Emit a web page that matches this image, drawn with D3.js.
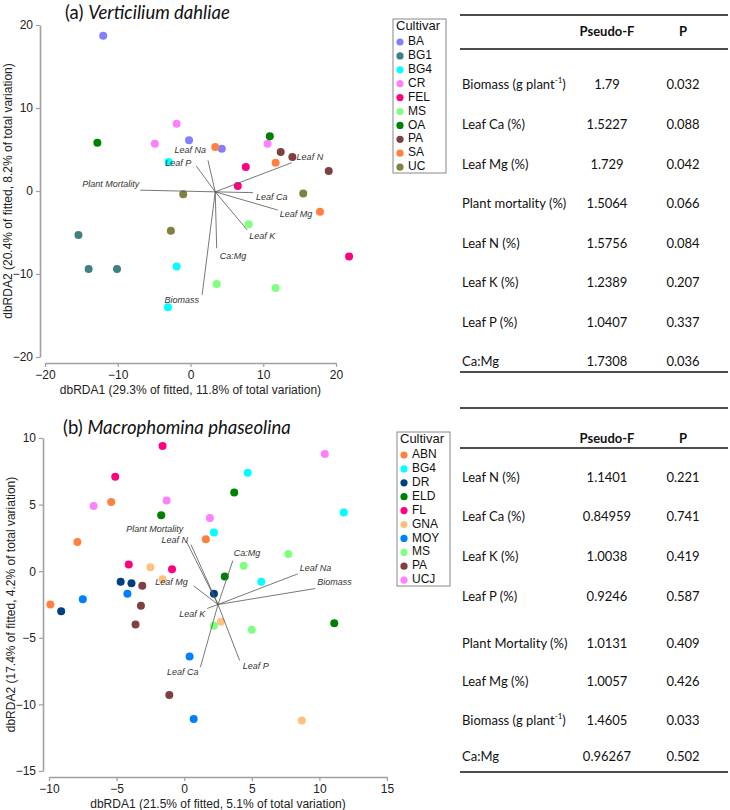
<!DOCTYPE html>
<html>
<head>
<meta charset="utf-8">
<script src="https://cdn.jsdelivr.net/npm/d3@7"></script>
<style>
  body { margin: 0; background: #fff; }
  .tick text { font-family: 'Liberation Sans', Arial, sans-serif; }
</style>
</head>
<body>
<div class="canvas"></div>
<script>
// ---- Panel (a) Verticilium dahliae ----
const cultivarsA = ['BA', 'BG1', 'BG4', 'CR', 'FEL', 'MS', 'OA', 'PA', 'SA', 'UC']
const pointsA = [
  ['BA', -12.0, 18.7], ['BA', -0.2, 6.1], ['BA', 4.3, 5.1],
  ['BG1', -15.4, -5.3], ['BG1', -14.0, -9.4], ['BG1', -10.1, -9.4],
  ['BG4', -3.0, 3.5], ['BG4', -1.9, -9.1], ['BG4', -3.1, -14.0],
  ['CR', -1.9, 8.1], ['CR', -4.9, 5.7], ['CR', 10.6, 5.7],
  ['FEL', 7.6, 2.9], ['FEL', 6.5, 0.6], ['FEL', 21.8, -7.9],
  ['MS', 3.6, -11.2], ['MS', 8.0, -4.0], ['MS', 11.7, -11.7],
  ['OA', -12.8, 5.8], ['OA', 10.9, 6.6],
  ['PA', 12.4, 4.7], ['PA', 14.0, 4.1], ['PA', 19.0, 2.4],
  ['SA', 3.4, 5.3], ['SA', 11.7, 3.4], ['SA', 17.8, -2.5],
  ['UC', -1.0, -0.4], ['UC', -2.7, -4.8], ['UC', 15.5, -0.3]
]
const originA = [3.4, -0.1]
const vectorsA = [
  ['Plant Mortality', -6.9, 0.1], ['Leaf P', 0.8, 3.0], ['Leaf Na', 2.4, 3.7],
  ['Leaf N', 13.9, 3.4], ['Leaf Ca', 8.6, -0.2], ['Leaf Mg', 12.0, -2.3],
  ['Leaf K', 7.8, -4.7], ['Ca:Mg', 3.6, -6.9], ['Biomass', 1.6, -12.5]
]
const xTicksA = [-20, -10, 0, 10, 20]
const yTicksA = [-20, -10, 0, 10, 20]
const tableNamesA = ['Biomass (g plant^-1^)', 'Leaf Ca (%)', 'Leaf Mg (%)', 'Plant mortality (%)',
  'Leaf N (%)', 'Leaf K (%)', 'Leaf P (%)', 'Ca:Mg']
const pseudoFA = [1.79, 1.5227, 1.729, 1.5064, 1.5756, 1.2389, 1.0407, 1.7308]
const pValuesA = [0.032, 0.088, 0.042, 0.066, 0.084, 0.207, 0.337, 0.036]

// ---- Panel (b) Macrophomina phaseolina ----
const cultivarsB = ['ABN', 'BG4', 'DR', 'ELD', 'FL', 'GNA', 'MOY', 'MS', 'PA', 'UCJ']
const pointsB = [
  ['ABN', -5.4, 5.2], ['ABN', -7.9, 2.2], ['ABN', 1.6, 2.4], ['ABN', -9.9, -2.5],
  ['BG4', 4.7, 7.4], ['BG4', 2.2, 2.9], ['BG4', 11.8, 4.4], ['BG4', 5.7, -0.8],
  ['DR', -4.7, -0.8], ['DR', -3.9, -0.9], ['DR', -9.1, -3.0], ['DR', 2.2, -1.7],
  ['ELD', -1.7, 4.2], ['ELD', 3.7, 5.9], ['ELD', 3.0, -0.4], ['ELD', 11.1, -3.9],
  ['FL', -1.6, 9.4], ['FL', -5.1, 7.1], ['FL', -4.1, 0.5], ['FL', -0.9, 0.15],
  ['GNA', -2.5, 0.3], ['GNA', -1.6, -0.6], ['GNA', 2.7, -3.8], ['GNA', 8.7, -11.2],
  ['MOY', -7.5, -2.1], ['MOY', -4.2, -1.7], ['MOY', 0.4, -6.4], ['MOY', 0.7, -11.1],
  ['MS', 7.7, 1.3], ['MS', 4.4, 0.4], ['MS', 2.2, -4.1], ['MS', 5.0, -4.4],
  ['PA', -3.1, -1.1], ['PA', -3.2, -2.6], ['PA', -3.6, -4.0], ['PA', -1.1, -9.3],
  ['UCJ', -6.7, 4.9], ['UCJ', -1.3, 5.3], ['UCJ', 1.9, 4.0], ['UCJ', 10.4, 8.8]
]
const originB = [2.5, -2.5]
const vectorsB = [
  ['Plant Mortality', 0.15, 2.26], ['Leaf N', 0.5, 2.0], ['Ca:Mg', 3.6, 0.8],
  ['Leaf Na', 8.4, -0.2], ['Biomass', 9.7, -1.3], ['Leaf Mg', 0.7, -1.1],
  ['Leaf K', 1.7, -2.8], ['Leaf Ca', 1.2, -7.2], ['Leaf P', 4.1, -6.7]
]
const xTicksB = [-10, -5, 0, 5, 10, 15]
const yTicksB = [-15, -10, -5, 0, 5, 10]
const tableNamesB = ['Leaf N (%)', 'Leaf Ca (%)', 'Leaf K (%)', 'Leaf P (%)',
  'Plant Mortality (%)', 'Leaf Mg (%)', 'Biomass (g plant^-1^)', 'Ca:Mg']
const pseudoFB = [1.1401, 0.84959, 1.0038, 0.9246, 1.0131, 1.0057, 1.4605, 0.96267]
const pValuesB = [0.221, 0.741, 0.419, 0.587, 0.409, 0.426, 0.033, 0.502]

// ---- styles / layout ----
const colorsA = ['#8080ff', '#408080', '#00ffff', '#ff80ff', '#ff0080', '#80ff80', '#008000', '#804040', '#ff8040', '#808040']
const colorsB = ['#ff8040', '#00ffff', '#004080', '#008000', '#ff0080', '#ffc080', '#0080ff', '#80ff80', '#804040', '#ff80ff']

// label offsets for the vector labels: [anchor, dx, dy]
const labelPosA = {
  'Plant Mortality': ['end', -1, -6], 'Leaf P': ['end', -5, -2], 'Leaf Na': ['end', -2, -10],
  'Leaf N': ['start', 5, -5], 'Leaf Ca': ['start', 3, 5], 'Leaf Mg': ['start', 2, 5],
  'Leaf K': ['start', 2, 7], 'Ca:Mg': ['start', 3, 8], 'Biomass': ['end', -3, 6]
}
const labelPosB = {
  'Plant Mortality': ['end', -3, -11], 'Leaf N': ['end', -3, -4], 'Ca:Mg': ['start', 1, -7],
  'Leaf Na': ['start', 2, -5], 'Biomass': ['start', 2, -6], 'Leaf Mg': ['end', -6, -3],
  'Leaf K': ['end', -2, 6], 'Leaf Ca': ['end', -2, 6], 'Leaf P': ['start', 3, 6]
}

const svg = d3.select('.canvas')
  .append('svg')
    .attr('width', 730)
    .attr('height', 810)

const sans = "'Liberation Sans', Arial, sans-serif"
const calibri = "Lato, 'Open Sans', sans-serif"

const drawPanel = p => {
  const x = d3.scaleLinear().domain(p.xDomain).range(p.xRange)
  const y = d3.scaleLinear().domain(p.yDomain).range(p.yRange)
  const color = d3.scaleOrdinal().domain(p.cultivars).range(p.colors)
  const g = svg.append('g')

  // Title
  const title = g.append('text')
    .attr('x', p.titleX).attr('y', p.titleY)
    .attr('font-family', calibri).attr('font-size', 18.5).attr('fill', '#111')
  title.append('tspan').text(p.titleTag + ' ')
  title.append('tspan').attr('font-style', 'italic').text(p.titleName)

  // Axes
  const xAxis = g.append('g')
    .attr('transform', `translate(0, ${p.xAxisY})`)
    .call(d3.axisBottom(x).tickValues(p.xTicks).tickSize(4).tickPadding(3).tickSizeOuter(0))
  const yAxis = g.append('g')
    .attr('transform', `translate(${p.yAxisX}, 0)`)
    .call(d3.axisLeft(y).tickValues(p.yTicks).tickSize(4).tickPadding(3).tickSizeOuter(0))
  ;[xAxis, yAxis].forEach(a => {
    a.select('.domain').attr('stroke', '#a0a0a0').attr('stroke-width', 1.6)
    a.selectAll('.tick line').attr('stroke', '#a0a0a0').attr('stroke-width', 1.2)
    a.selectAll('.tick text').attr('font-size', 12).attr('fill', '#222')
  })

  g.append('text')
    .attr('x', d3.mean(p.xRange)).attr('y', p.xAxisY + 31)
    .attr('text-anchor', 'middle')
    .attr('font-family', sans).attr('font-size', 12).attr('fill', '#222')
    .text(p.xLabel)
  g.append('text')
    .attr('transform', `translate(${p.yAxisX - 28}, ${d3.mean(p.yRange)}) rotate(-90)`)
    .attr('text-anchor', 'middle')
    .attr('font-family', sans).attr('font-size', 12).attr('fill', '#222')
    .text(p.yLabel)

  // Points
  g.append('g').selectAll('circle')
    .data(p.points)
    .enter().append('circle')
      .attr('cx', d => x(d[1]))
      .attr('cy', d => y(d[2]))
      .attr('r', 4)
      .attr('fill', d => color(d[0]))

  // Vectors
  const ox = x(p.origin[0]), oy = y(p.origin[1])
  const vec = g.append('g')
  vec.selectAll('line')
    .data(p.vectors)
    .enter().append('line')
      .attr('x1', ox).attr('y1', oy)
      .attr('x2', d => x(d[1])).attr('y2', d => y(d[2]))
      .attr('stroke', '#555').attr('stroke-width', 0.8)
  vec.selectAll('text')
    .data(p.vectors)
    .enter().append('text')
      .attr('x', d => x(d[1]) + p.labelPos[d[0]][1])
      .attr('y', d => y(d[2]) + p.labelPos[d[0]][2])
      .attr('text-anchor', d => p.labelPos[d[0]][0])
      .attr('dominant-baseline', 'middle')
      .attr('font-family', sans).attr('font-size', 9).attr('font-style', 'italic')
      .attr('fill', '#333')
      .text(d => d[0])

  // Legend
  const lg = g.append('g').attr('transform', `translate(${p.legend[0]}, ${p.legend[1]})`)
  lg.append('rect')
    .attr('width', 53).attr('height', 154)
    .attr('fill', '#fff').attr('stroke', '#888').attr('stroke-width', 1)
  lg.append('text')
    .attr('x', 3).attr('y', 8).attr('dominant-baseline', 'middle')
    .attr('font-family', sans).attr('font-size', 13).attr('fill', '#111')
    .text('Cultivar')
  const items = lg.selectAll('.item')
    .data(p.cultivars)
    .enter().append('g')
      .attr('class', 'item')
      .attr('transform', (d, i) => `translate(0, ${23 + i * 13.9})`)
  items.append('circle').attr('cx', 7).attr('r', 3.6).attr('fill', d => color(d))
  items.append('text')
    .attr('x', 15).attr('dominant-baseline', 'middle')
    .attr('font-family', sans).attr('font-size', 12).attr('fill', '#111')
    .text(d => d)
}

const drawTable = t => {
  const g = svg.append('g').attr('font-family', calibri).attr('fill', '#111')
  t.lines.forEach(ly => {
    g.append('line')
      .attr('x1', 460).attr('x2', 728).attr('y1', ly).attr('y2', ly)
      .attr('stroke', '#111').attr('stroke-width', 1.5)
  })
  g.append('text').attr('x', 607).attr('y', t.headerY)
    .attr('text-anchor', 'middle').attr('dominant-baseline', 'middle')
    .attr('font-size', 13).attr('font-weight', 'bold').text('Pseudo-F')
  g.append('text').attr('x', 683).attr('y', t.headerY)
    .attr('text-anchor', 'middle').attr('dominant-baseline', 'middle')
    .attr('font-size', 13).attr('font-weight', 'bold').text('P')

  t.names.forEach((name, i) => {
    const ry = t.rowY[i]
    const label = g.append('text').attr('x', 462).attr('y', ry)
      .attr('dominant-baseline', 'middle').attr('font-size', 13)
    const parts = name.split('^')
    parts.forEach((part, j) => {
      if (j % 2 === 1) {
        label.append('tspan').attr('font-size', 8).attr('dy', -5).text(part)
      } else {
        label.append('tspan').attr('dy', j > 0 ? 5 : 0).text(part)
      }
    })
    g.append('text').attr('x', 607).attr('y', ry)
      .attr('text-anchor', 'middle').attr('dominant-baseline', 'middle')
      .attr('font-size', 13).text(String(t.pseudoF[i]))
    g.append('text').attr('x', 683).attr('y', ry)
      .attr('text-anchor', 'middle').attr('dominant-baseline', 'middle')
      .attr('font-size', 13).text(String(t.p[i]))
  })
}

drawPanel({
  titleTag: '(a)', titleName: 'Verticilium dahliae', titleX: 65, titleY: 19,
  xDomain: [-20, 20], xRange: [45, 336], yDomain: [-20, 20], yRange: [357, 25],
  xAxisY: 363, yAxisX: 40, xTicks: xTicksA, yTicks: yTicksA,
  xLabel: 'dbRDA1 (29.3% of fitted, 11.8% of total variation)',
  yLabel: 'dbRDA2 (20.4% of fitted, 8.2% of total variation)',
  cultivars: cultivarsA, colors: colorsA, points: pointsA,
  origin: originA, vectors: vectorsA, labelPos: labelPosA, legend: [393, 19]
})

drawPanel({
  titleTag: '(b)', titleName: 'Macrophomina phaseolina', titleX: 63, titleY: 434,
  xDomain: [-10, 15], xRange: [49, 387], yDomain: [-15, 10], yRange: [771, 438],
  xAxisY: 777, yAxisX: 43, xTicks: xTicksB, yTicks: yTicksB,
  xLabel: 'dbRDA1 (21.5% of fitted, 5.1% of total variation)',
  yLabel: 'dbRDA2 (17.4% of fitted, 4.2% of total variation)',
  cultivars: cultivarsB, colors: colorsB, points: pointsB,
  origin: originB, vectors: vectorsB, labelPos: labelPosB, legend: [397, 432]
})

drawTable({
  lines: [15, 49, 372], headerY: 33,
  rowY: [86, 126, 166, 205, 245, 284, 324, 363],
  names: tableNamesA, pseudoF: pseudoFA, p: pValuesA
})

drawTable({
  lines: [408, 448, 772], headerY: 440,
  rowY: [479, 518, 558, 598, 645, 683, 722, 758],
  names: tableNamesB, pseudoF: pseudoFB, p: pValuesB
})
</script>
</body>
</html>
